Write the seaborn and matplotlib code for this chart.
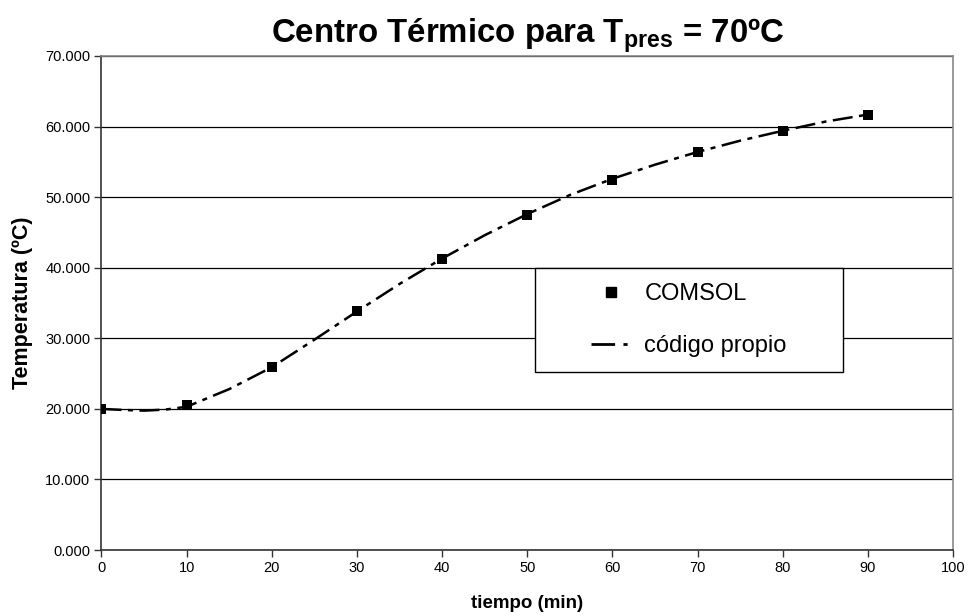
import matplotlib
matplotlib.use("Agg")
import matplotlib.pyplot as plt
import seaborn as sns
import pandas as pd
from matplotlib.lines import Line2D
from matplotlib.patches import Rectangle

# Data
comsol_t = [0, 10, 20, 30, 40, 50, 60, 70, 80, 90]
comsol_T = [20.0, 20.5, 25.9, 33.8, 41.3, 47.5, 52.5, 56.4, 59.4, 61.7]

codigo_t = [0, 2.5, 5, 7.5, 10, 15, 20, 25, 30, 35, 40, 45, 50, 55, 60, 65, 70, 75, 80, 85, 90]
codigo_T = [20.0, 19.85, 19.75, 19.9, 20.3, 22.8, 25.9, 29.8, 33.8, 37.7, 41.3, 44.6, 47.6,
            50.3, 52.6, 54.6, 56.4, 58.0, 59.4, 60.7, 61.7]

x_ticks = list(range(0, 101, 10))
y_ticks = list(range(0, 71, 10))
y_tick_labels = [f"{v:.3f}" for v in y_ticks]

sns.set_theme(style="white")
plt.rcParams['font.family'] = ['Liberation Sans', 'DejaVu Sans']
plt.rcParams['mathtext.fontset'] = 'custom'
plt.rcParams['mathtext.rm'] = 'Liberation Sans'
plt.rcParams['mathtext.bf'] = 'Liberation Sans:bold'
for k in ['text.color', 'axes.labelcolor', 'xtick.color', 'ytick.color']:
    plt.rcParams[k] = 'black'

fig = plt.figure(figsize=(9.7, 6.16), dpi=100)
ax = fig.add_axes([0.1046, 0.1071, 0.8779, 0.802])

df_line = pd.DataFrame({"t": codigo_t, "T": codigo_T})
df_pts = pd.DataFrame({"t": comsol_t, "T": comsol_T})

sns.lineplot(data=df_line, x="t", y="T", ax=ax, color="black", linewidth=1.8,
             dashes=False, zorder=3)
ax.lines[-1].set_dashes((8, 2.6, 2, 2.6))
sns.scatterplot(data=df_pts, x="t", y="T", ax=ax, marker="s", s=60, color="black",
                edgecolor="black", linewidth=0, zorder=4)

ax.set_xlim(0, 100)
ax.set_ylim(0, 70)
ax.set_xticks(x_ticks)
ax.set_xticklabels([str(v) for v in x_ticks], fontsize=10.5)
ax.set_yticks(y_ticks)
ax.set_yticklabels(y_tick_labels, fontsize=10.5)

ax.yaxis.grid(True, color="black", linewidth=0.9)
ax.xaxis.grid(False)
ax.set_axisbelow(True)

for s in ["top", "right"]:
    ax.spines[s].set_color("#888888")
    ax.spines[s].set_linewidth(1.2)
for s in ["left", "bottom"]:
    ax.spines[s].set_color("#333333")
    ax.spines[s].set_linewidth(1.2)

ax.tick_params(axis="both", direction="out", length=5, width=1, color="#333333",
               bottom=True, left=True, pad=3, labelcolor="black")

ax.set_xlabel("tiempo (min)", fontsize=13.5, fontweight="bold", labelpad=14)
ax.set_ylabel("Temperatura (ºC)", fontsize=15.5, fontweight="bold", labelpad=9)
ax.set_title(r"Centro Térmico para T$_{\mathbf{pres}}$ = 70ºC", fontsize=23.8,
             fontweight="bold", pad=10, color="black")

# legend frame
bx, by, bw, bh = 0.509, 0.360, 0.362, 0.211
ax.add_patch(Rectangle((bx, by), bw, bh, transform=ax.transAxes, facecolor="white",
                       edgecolor="black", linewidth=1.0, zorder=5))

handles = [
    Line2D([], [], marker="s", color="black", linestyle="None", markersize=7.5),
    Line2D([], [], color="black", linewidth=2, dashes=(8.5, 3, 1.5, 3)),
]
leg = ax.legend(handles, ["COMSOL", "código propio"], loc="center",
                bbox_to_anchor=(bx + bw / 2, by + bh / 2),
                fontsize=17, frameon=False, labelspacing=1.27,
                handlelength=1.65, handletextpad=0.6, borderaxespad=0)
leg.set_zorder(6)

fig.savefig("out.png", dpi=100, facecolor="white")
